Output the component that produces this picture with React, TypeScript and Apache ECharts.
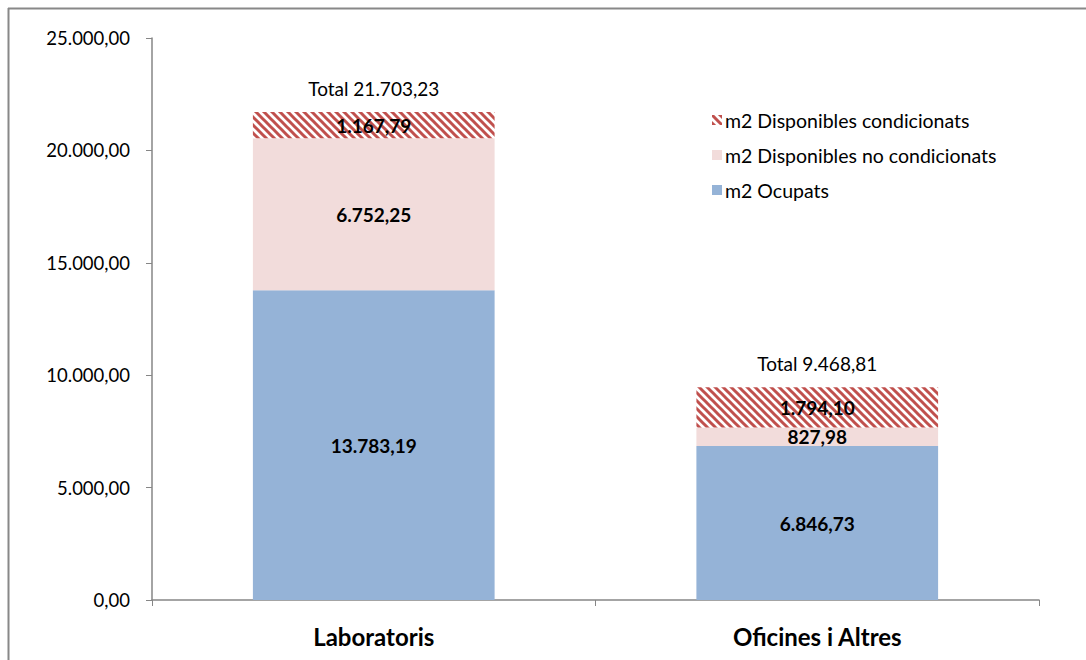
import React, { useEffect, useRef } from "react";
import * as echarts from "echarts";

const categories = ["Laboratoris", "Oficines i Altres"];
const ocupats = [13783.19, 6846.73];
const noCondicionats = [6752.25, 827.98];
const condicionats = [1167.79, 1794.1];
const totals = [21703.23, 9468.81];
const yTicks = [0, 5000, 10000, 15000, 20000, 25000];

const seriesNames = {
  ocupats: "m2 Ocupats",
  noCond: "m2 Disponibles no condicionats",
  cond: "m2 Disponibles condicionats",
};

function fmt(v: number): string {
  const parts = v.toFixed(2).split(".");
  const intPart = parts[0].replace(/\B(?=(\d{3})+(?!\d))/g, ".");
  return intPart + "," + parts[1];
}

function makeHatch(): HTMLCanvasElement {
  const c = document.createElement("canvas");
  const s = 8;
  c.width = s;
  c.height = s;
  const ctx = c.getContext("2d")!;
  ctx.fillStyle = "#ffffff";
  ctx.fillRect(0, 0, s, s);
  ctx.strokeStyle = "#C0504D";
  ctx.lineWidth = 3;
  for (let k = -1; k <= 1; k++) {
    ctx.beginPath();
    ctx.moveTo(k * s - 2, -2);
    ctx.lineTo(k * s + s + 2, s + 2);
    ctx.stroke();
  }
  return c;
}

export default function App() {
  const ref = useRef<HTMLDivElement>(null);
  useEffect(() => {
    if (!ref.current) return;
    const chart = echarts.init(ref.current, undefined, { renderer: "svg" });
    const hatch = { image: makeHatch(), repeat: "repeat" } as any;
    const font = "Lato, 'Open Sans', sans-serif";
    const inLabel = {
      show: true,
      position: "inside",
      fontFamily: font,
      fontWeight: "bold",
      fontSize: 19,
      color: "#000",
      formatter: (p: any) => fmt(p.value),
    };
    chart.setOption({
      animation: false,
      textStyle: { fontFamily: font },
      grid: { left: 152, right: 47, top: 38, bottom: 60 },
      legend: {
        data: [
          { name: seriesNames.cond, itemStyle: { color: hatch } },
          seriesNames.noCond,
          seriesNames.ocupats,
        ],
        orient: "vertical",
        left: 712,
        top: 110,
        padding: 0,
        itemWidth: 10,
        itemHeight: 10,
        itemGap: 15,
        icon: "rect",
        textStyle: { fontFamily: font, fontSize: 19.5, color: "#000", padding: [0, 0, 0, -2], lineHeight: 20 },
        selectedMode: false,
      },
      graphic: [
        { type: "line", shape: { x1: 8, y1: 8.5, x2: 1086, y2: 8.5 }, style: { stroke: "#888", lineWidth: 2 } },
        { type: "line", shape: { x1: 8.5, y1: 8, x2: 8.5, y2: 660 }, style: { stroke: "#888", lineWidth: 2 } },
      ],
      xAxis: {
        type: "category",
        data: categories,
        axisLine: { lineStyle: { color: "#868686", width: 1.5 } },
        axisTick: { show: true, length: 6, lineStyle: { color: "#868686" } },
        axisLabel: { fontFamily: font, fontWeight: "bold", fontSize: 24, color: "#000", margin: 24 },
      },
      yAxis: {
        type: "value",
        min: 0,
        max: 25000,
        interval: 5000,
        splitLine: { show: false },
        axisLine: { show: true, lineStyle: { color: "#868686", width: 1.5 } },
        axisTick: { show: true, length: 6, lineStyle: { color: "#868686" } },
        axisLabel: {
          fontFamily: font,
          fontSize: 18.5,
          color: "#000",
          margin: 22,
          formatter: (v: number) => (yTicks.includes(v) ? fmt(v) : ""),
        },
      },
      series: [
        {
          name: seriesNames.ocupats,
          type: "bar",
          stack: "s",
          barWidth: "54.5%",
          data: ocupats,
          itemStyle: { color: "#95B3D7" },
          label: inLabel,
        },
        {
          name: seriesNames.noCond,
          type: "bar",
          stack: "s",
          data: noCondicionats,
          itemStyle: { color: "#F2DCDB" },
          label: inLabel,
        },
        {
          name: seriesNames.cond,
          type: "bar",
          stack: "s",
          data: condicionats,
          itemStyle: { color: hatch },
          label: inLabel,
        },
        {
          name: "Total",
          type: "bar",
          stack: "s",
          data: totals.map(() => 0),
          silent: true,
          itemStyle: { color: "transparent" },
          label: {
            show: true,
            position: "top",
            distance: 14,
            fontFamily: font,
            fontSize: 19,
            color: "#000",
            formatter: (p: any) => "Total " + fmt(totals[p.dataIndex]),
          },
        },
      ],
    });
    return () => chart.dispose();
  }, []);
  return (
    <div
      ref={ref}
      style={{ position: "fixed", left: 0, top: 0, width: 1086, height: 660, background: "#fff" }}
    />
  );
}
